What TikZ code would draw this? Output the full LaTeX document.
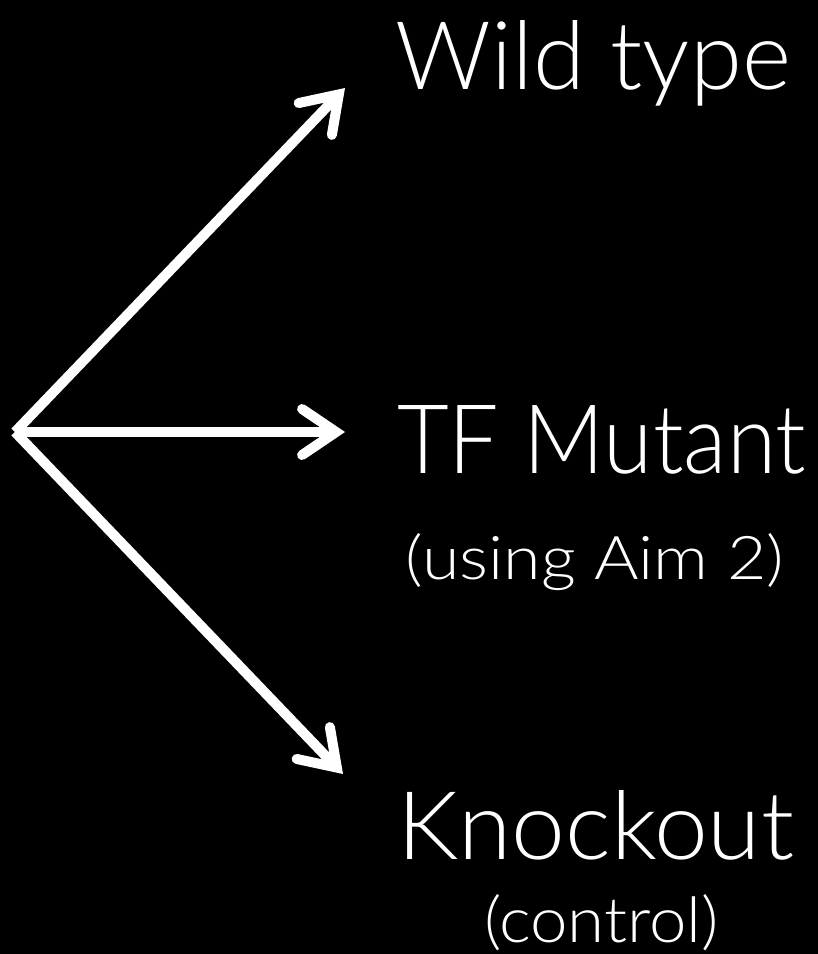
\documentclass[tikz,border=0pt]{standalone}
\usepackage{fontspec}
\setmainfont{Lato Light}
\usetikzlibrary{arrows.meta}
\newcommand\fitbox[3]{\resizebox{#1}{#2}{#3}}
\tikzset{
  conn/.style={draw=white, line width=10pt,
    -{Straight Barb[length=34pt, width=46pt, line cap=round, line join=miter]}},
  lbl/.style={text=white, inner sep=0pt, anchor=base, font=\fontsize{96}{100}\selectfont}
}
\begin{document}
\begin{tikzpicture}[x=1pt, y=-1pt]
\fill[black] (0,0) rectangle (818,954);
\useasboundingbox (0,0) rectangle (818,954);
\coordinate (O) at (15,432);
\coordinate (t1) at (345,88);
\coordinate (t2) at (345,432);
\coordinate (t3) at (343,774);
\node[lbl] (wt) at (593.5,89) {\fitbox{395pt}{69pt}{Wild type}};
\node[lbl] (tf) at (601.5,473) {\fitbox{409pt}{68pt}{TF Mutant}};
\node[lbl] (aim) at (595,579) {\fitbox{378pt}{46pt}{(using Aim 2)}};
\node[lbl] (ko) at (595.5,859) {\fitbox{397pt}{69pt}{Knockout}};
\node[lbl] (ctl) at (601.5,942) {\fitbox{235pt}{48pt}{(control)}};
\draw[conn] (O) -- (t1);
\draw[conn] (O) -- (t2);
\draw[conn] (O) -- (t3);
\end{tikzpicture}
\end{document}
